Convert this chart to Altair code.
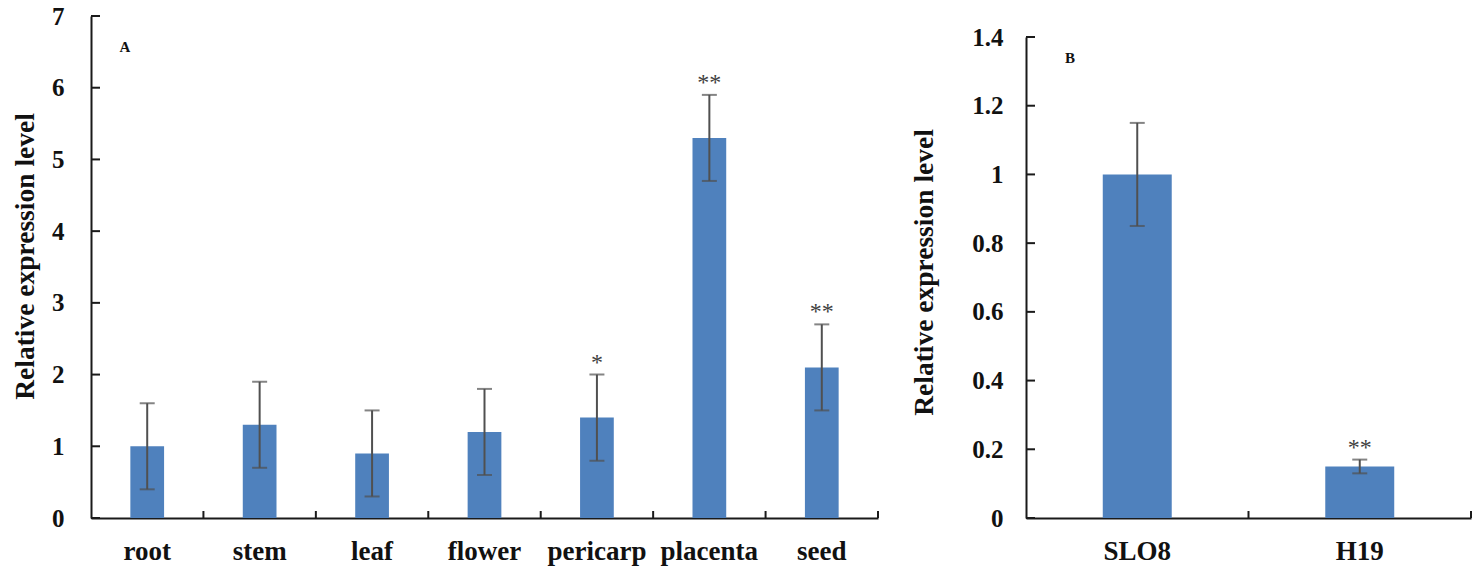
import altair as alt
import pandas as pd

# ---- data ----
tissues = ["root", "stem", "leaf", "flower", "pericarp", "placenta", "seed"]
tissue_mean = [1.0, 1.3, 0.9, 1.2, 1.4, 5.3, 2.1]
tissue_sd = [0.6, 0.6, 0.6, 0.6, 0.6, 0.6, 0.6]
tissue_sig = ["", "", "", "", "*", "**", "**"]
ticks_a = [0, 1, 2, 3, 4, 5, 6, 7]

lines = ["SLO8", "H19"]
line_mean = [1.0, 0.15]
line_sd = [0.15, 0.02]
line_sig = ["", "**"]
ticks_b = [0, 0.2, 0.4, 0.6, 0.8, 1.0, 1.2, 1.4]

FONT = "Liberation Serif"
BAR = "#4F81BD"
ERR = "#505050"
AXIS = "#1a1a1a"
H = 502
YTITLE = "Relative expression level"


def make_df(cats, mean, sd, sig):
    return pd.DataFrame({
        "cat": cats,
        "mean": mean,
        "lo": [m - s for m, s in zip(mean, sd)],
        "hi": [m + s for m, s in zip(mean, sd)],
        "sig": sig,
    })


def panel(df, cats, ticks, ymax, yrange, width, bar_frac, label_pad, title_pad,
          title_y, letter, letter_xy, fmt):
    xenc = alt.X("cat:N", sort=cats, title=None,
                 scale=alt.Scale(paddingInner=0, paddingOuter=0),
                 axis=alt.Axis(labelAngle=0, ticks=False, tickSize=0, grid=False,
                               domainColor=AXIS, domainWidth=2,
                               labelFont=FONT, labelFontWeight="bold",
                               labelFontSize=27, labelColor="#111",
                               labelPadding=20))
    yscale = alt.Scale(domain=[0, ymax], nice=False, zero=True, range=yrange)
    base = alt.Chart(df).encode(x=xenc)
    bars = base.mark_bar(width=alt.RelativeBandSize(bar_frac), color=BAR).encode(
        y=alt.Y("mean:Q", scale=yscale, title=YTITLE,
                axis=alt.Axis(values=ticks, format=fmt, ticks=False, tickSize=0,
                              grid=False, domainColor=AXIS, domainWidth=2,
                              labelFont=FONT, labelFontWeight="bold",
                              labelFontSize=25, labelColor="#111",
                              labelPadding=label_pad,
                              titleFont=FONT, titleFontWeight="bold",
                              titleFontSize=27.5, titleColor="#111",
                              titlePadding=title_pad, titleY=title_y))
    )
    err = base.mark_rule(color=ERR, strokeWidth=2).encode(
        y=alt.Y("lo:Q", title=YTITLE), y2="hi:Q")
    cap_hi = base.mark_tick(color=ERR, thickness=2, size=15).encode(
        y=alt.Y("hi:Q", title=YTITLE))
    cap_lo = base.mark_tick(color=ERR, thickness=2, size=15).encode(
        y=alt.Y("lo:Q", title=YTITLE))
    stars = base.mark_text(font=FONT, fontSize=24, color="#404040",
                           baseline="alphabetic", dy=-5).encode(
        y=alt.Y("hi:Q", title=YTITLE), text="sig:N")
    xticks = base.mark_rule(color=AXIS, strokeWidth=2).encode(
        x=alt.X("cat:N", sort=cats, bandPosition=1, title=None),
        y=alt.value(H), y2=alt.value(H - 7))
    yticks = alt.Chart(pd.DataFrame({"v": ticks})).mark_rule(
        color=AXIS, strokeWidth=2).encode(
        y=alt.Y("v:Q", title=YTITLE), x=alt.value(0), x2=alt.value(9))
    lab = alt.Chart(pd.DataFrame({"t": [letter]})).mark_text(
        font=FONT, fontWeight="bold", fontSize=15, color="#111").encode(
        text="t:N", x=alt.value(letter_xy[0]), y=alt.value(letter_xy[1]))
    return alt.layer(bars, err, cap_hi, cap_lo, stars, xticks, yticks, lab).properties(
        width=width, height=H)


dfa = make_df(tissues, tissue_mean, tissue_sd, tissue_sig)
dfb = make_df(lines, line_mean, line_sd, line_sig)

pa = panel(dfa, tissues, ticks_a, 7, [H, 0], 787, 0.30, 27, 12, 240,
           "A", (34, 31), "d")
pb = panel(dfb, lines, ticks_b, 1.4, [H, 21], 445, 0.31, 23, 33, 256,
           "B", (44, 42), "")

chart = alt.hconcat(pa, pb, spacing=31).configure_view(stroke=None).properties(
    padding={"left": 11, "top": 4, "right": 5, "bottom": 5})

chart.save("out.html", embed_options={"renderer": "svg", "actions": False})
